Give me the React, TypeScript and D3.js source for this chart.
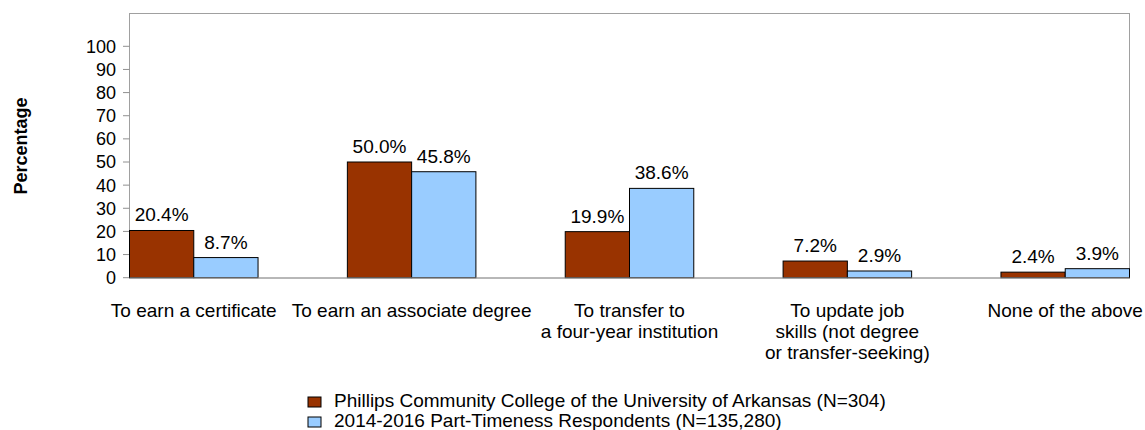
import * as d3 from "d3";

// Categories (multi-line labels) and the two series
const categories = [
  ["To earn a certificate"],
  ["To earn an associate degree"],
  ["To transfer to", "a four-year institution"],
  ["To update job", "skills (not degree", "or transfer-seeking)"],
  ["None of the above"],
];
const collegeValues = [20.4, 50.0, 19.9, 7.2, 2.4];
const cohortValues = [8.7, 45.8, 38.6, 2.9, 3.9];
const seriesNames = [
  "Phillips Community College of the University of Arkansas (N=304)",
  "2014-2016 Part-Timeness Respondents (N=135,280)",
];
const seriesColors = ["#993300", "#99CCFF"];
const yTicks = [0, 10, 20, 30, 40, 50, 60, 70, 80, 90, 100];

const W = 1145;
const H = 430;
const left = 129.5;
const right = 1129.5;
const top = 13.5;
const bottom = 278;
const FONT = "'Liberation Sans', Arial, Helvetica, sans-serif";

export default function App() {
  const x = d3
    .scaleBand<number>()
    .domain(d3.range(categories.length))
    .range([left, right])
    .paddingInner(0.41)
    .paddingOuter(0);
  const xs = d3.scaleBand<number>().domain([0, 1]).range([0, x.bandwidth()]);
  const y = d3.scaleLinear().domain([0, 100]).range([bottom - 0.3, 46.3]);

  const series = [collegeValues, cohortValues];

  return (
    <svg
      width={W}
      height={H}
      style={{ position: "absolute", left: 0, top: 0, background: "#fff" }}
      fontFamily={FONT}
    >
      {/* plot frame */}
      <rect
        x={left}
        y={top}
        width={right - left}
        height={bottom - top}
        fill="none"
        stroke="#a0a0a0"
        strokeWidth={1}
      />

      {/* y axis ticks */}
      {yTicks.map((t) => (
        <g key={t}>
          <line x1={left - 6.5} x2={left} y1={y(t)} y2={y(t)} stroke="#909090" />
          <text
            x={left - 13.5}
            y={y(t)}
            dy="0.36em"
            textAnchor="end"
            fontSize={18}
            fill="#000"
          >
            {t}
          </text>
        </g>
      ))}

      <text
        transform={`translate(27,146) rotate(-90)`}
        textAnchor="middle"
        fontSize={18}
        fontWeight="bold"
      >
        Percentage
      </text>

      {/* bars */}
      {categories.map((_, i) =>
        series.map((vals, s) => {
          const bx = (x(i) as number) + (xs(s) as number);
          const by = y(vals[i]);
          return (
            <g key={`${i}-${s}`}>
              <rect
                x={bx}
                y={by}
                width={xs.bandwidth()}
                height={y(0) - by}
                fill={seriesColors[s]}
                stroke="#000"
                strokeWidth={1}
              />
              <text
                x={bx + xs.bandwidth() / 2}
                y={by - 9}
                textAnchor="middle"
                fontSize={19}
              >
                {vals[i].toFixed(1) + "%"}
              </text>
            </g>
          );
        })
      )}

      {/* x axis line */}
      <line x1={left} x2={right} y1={bottom} y2={bottom} stroke="#a0a0a0" />

      {/* category labels */}
      {categories.map((lines, i) => (
        <text
          key={i}
          x={(x(i) as number) + x.bandwidth() / 2}
          y={317}
          textAnchor="middle"
          fontSize={19}
        >
          {lines.map((ln, k) => (
            <tspan key={k} x={(x(i) as number) + x.bandwidth() / 2} dy={k === 0 ? 0 : 21}>
              {ln}
            </tspan>
          ))}
        </text>
      ))}

      {/* legend */}
      {seriesNames.map((name, s) => (
        <g key={name} transform={`translate(308,${397 + s * 20})`}>
          <rect width={13} height={10} fill={seriesColors[s]} stroke="#000" strokeWidth={1} />
          <text x={26} y={10} fontSize={19}>
            {name}
          </text>
        </g>
      ))}
    </svg>
  );
}
